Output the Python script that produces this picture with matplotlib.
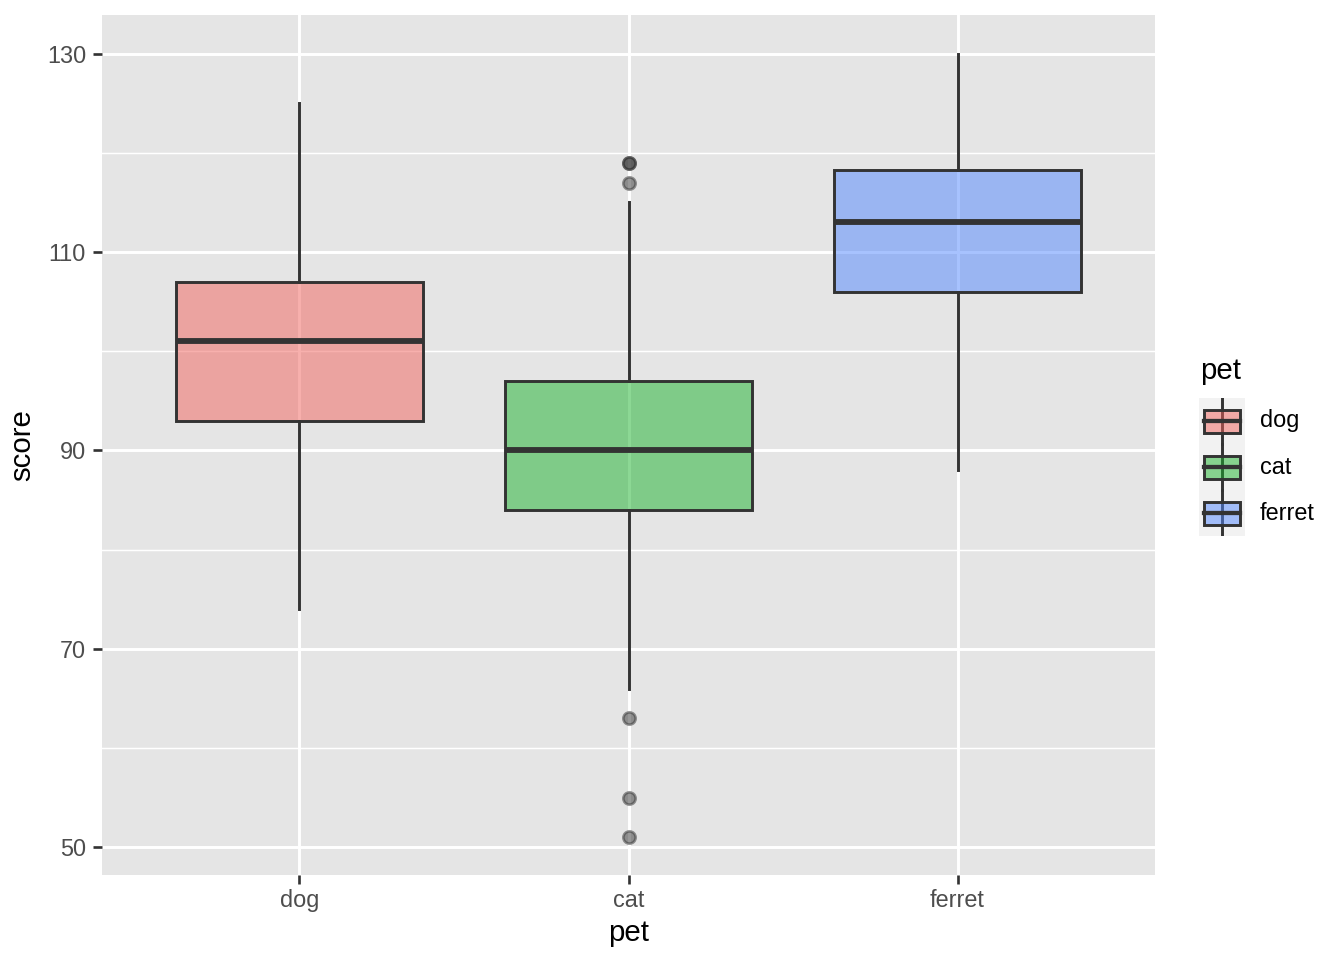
import matplotlib
matplotlib.use("Agg")
import matplotlib.pyplot as plt
from matplotlib.patches import Rectangle

plt.rcParams["font.family"] = ["Liberation Sans", "DejaVu Sans"]

categories = ["dog", "cat", "ferret"]
colors = ["#F1625C", "#1BB32C", "#5187FF"]
whislo = [74, 66, 88]
q1 = [93, 84, 106]
med = [101, 90, 113]
q3 = [107, 97, 118.25]
whishi = [125, 115, 130]
outliers = [[], [119, 119, 117, 63, 55, 51], []]
yticks = [50, 70, 90, 110, 130]
yminor = [60, 80, 100, 120]

W, H = 1344, 960
fig = plt.figure(figsize=(7, 5), dpi=192)
ax = fig.add_axes([102 / W, 1 - 875 / H, (1155 - 102) / W, (875 - 15) / H])
ax.set_facecolor("#E5E5E5")
for s in ax.spines.values():
    s.set_visible(False)

ax.set_xlim(0.4, 3.6)
ax.set_ylim(47.2, 133.9)

for y in yminor:
    ax.axhline(y, color="white", lw=0.55, zorder=0)
for y in yticks:
    ax.axhline(y, color="white", lw=1.1, zorder=0)
for i in range(len(categories)):
    ax.axvline(i + 1, color="white", lw=1.1, zorder=0)

stats = []
for i, c in enumerate(categories):
    stats.append(dict(label=c, whislo=whislo[i], q1=q1[i], med=med[i],
                      q3=q3[i], whishi=whishi[i], fliers=outliers[i]))

bp = ax.bxp(stats, positions=[1, 2, 3], widths=0.75, patch_artist=True,
            showcaps=False, manage_ticks=False,
            boxprops=dict(edgecolor="#333333", linewidth=1.1),
            whiskerprops=dict(color="#333333", linewidth=1.1),
            medianprops=dict(color="#333333", linewidth=2.2),
            flierprops=dict(marker="o", markersize=4.6, markerfacecolor="#333333",
                            markeredgecolor="#333333", alpha=0.5, linestyle="none"))
for patch, col in zip(bp["boxes"], colors):
    patch.set_facecolor(matplotlib.colors.to_rgba(col, 0.5))
    patch.set_zorder(2)

ax.set_xticks([1, 2, 3])
ax.set_xticklabels(categories)
ax.set_yticks(yticks)
ax.tick_params(axis="both", length=3.5, width=1.0, color="#333333",
               labelcolor="#4D4D4D", labelsize=8.8)
ax.tick_params(axis="x", pad=1.8)
ax.tick_params(axis="y", pad=2.5)
ax.set_xlabel("pet", fontsize=11, color="black", labelpad=2.5)
ax.set_ylabel("score", fontsize=11, color="black", labelpad=4)

# legend
fig.text(1200 / W, 1 - 371 / H, "pet", fontsize=11, color="black", va="center", ha="left")
lax = fig.add_axes([1199 / W, 1 - 536 / H, 46 / W, 138 / H])
lax.set_xlim(0, 1)
lax.set_ylim(0, 3)
lax.axis("off")
lax.add_patch(Rectangle((0, 0), 1, 3, facecolor="#F2F2F2", edgecolor="none"))
for i, (c, col) in enumerate(zip(categories, colors)):
    yc = 3 - i - 0.5
    lax.plot([0.5, 0.5], [yc - 0.5, yc + 0.5], color="#333333", lw=1.1, zorder=1)
    lax.add_patch(Rectangle((0.1, yc - 0.25), 0.8, 0.5,
                            facecolor=matplotlib.colors.to_rgba(col, 0.5),
                            edgecolor="#333333", lw=1.1, zorder=2))
    lax.plot([0.1, 0.9], [yc, yc], color="#333333", lw=1.6, zorder=3)
    fig.text(1260 / W, 1 - (398 + 46 * i + 23) / H, c, fontsize=8.8,
             color="black", va="center", ha="left")

fig.savefig("out.png", dpi=192)
